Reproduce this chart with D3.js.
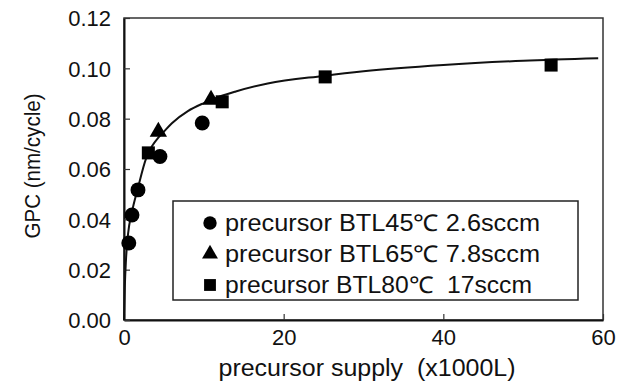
<!DOCTYPE html>
<html>
<head>
<meta charset="utf-8">
<script src="https://cdn.jsdelivr.net/npm/d3@7"></script>
<style>
  body { margin: 0; background: #fff; }
  text { font-family: "Liberation Sans", Arial, sans-serif; fill: #111; white-space: pre; }
</style>
</head>
<body>
<div id="chart"></div>
<script>
// series
var circleX = [0.6, 1.0, 1.75, 4.5, 9.8];
var circleY = [0.0306, 0.0417, 0.0517, 0.0650, 0.0783];
var triangleX = [4.3, 10.9];
var triangleY = [0.0748, 0.0875];
var squareX = [3.05, 12.3, 25.2, 53.5];
var squareY = [0.0664, 0.0867, 0.0966, 0.1013];

// fitted curve
var curveX = [0, 0.1, 0.25, 0.5, 1.0, 1.75, 2.75, 3.5, 4.3, 4.9, 6, 8, 10, 12, 14, 18, 25, 30, 40, 50, 59.4];
var curveY = [0, 0.013, 0.024, 0.034, 0.043, 0.0525, 0.0640, 0.0690, 0.0725, 0.0745, 0.0782, 0.0830, 0.0862, 0.0888, 0.0908, 0.0940, 0.0970, 0.0988, 0.1013, 0.1030, 0.1040];

var xTicks = [0, 20, 40, 60];
var yTicks = [0, 0.02, 0.04, 0.06, 0.08, 0.10, 0.12];

var legendLabels = ["precursor BTL45\u2103 2.6sccm", "precursor BTL65\u2103 7.8sccm", "precursor BTL80\u2103  17sccm"];
var legendWidths = [315, 315, 307];
var legendShapes = [d3.symbolCircle, d3.symbolTriangle, d3.symbolSquare];

var margin = {top: 18, right: 20, bottom: 71, left: 124},
    width = 623 - margin.left - margin.right,
    height = 391 - margin.top - margin.bottom;

var svg = d3.select("#chart")
  .append("svg")
  .attr("width", 623)
  .attr("height", 391)
  .append("g")
  .attr("transform", "translate(" + margin.left + "," + margin.top + ")");

var x = d3.scaleLinear().domain([0, 60]).range([0, width]);
var y = d3.scaleLinear().domain([0, 0.12]).range([height, 0]);

// frame
svg.append("rect")
  .attr("width", width)
  .attr("height", height)
  .attr("fill", "none")
  .attr("stroke", "#333")
  .attr("stroke-width", 1.5);

// axes, ticks pointing inward
var xAxis = svg.append("g")
  .attr("transform", "translate(0," + height + ")")
  .call(d3.axisBottom(x).tickValues(xTicks).tickSizeInner(-6).tickSizeOuter(0).tickPadding(9).tickFormat(d3.format("d")));
var yAxis = svg.append("g")
  .call(d3.axisLeft(y).tickValues(yTicks).tickSizeInner(-6).tickSizeOuter(0).tickPadding(13).tickFormat(d3.format(".2f")));

[xAxis, yAxis].forEach(function(a){
  a.select(".domain").attr("stroke", "#111").attr("stroke-width", 2);
  a.selectAll("line").attr("stroke", "#333").attr("stroke-width", 1.2);
  a.selectAll("text").style("font-size", "22px").attr("fill", "#111");
});
yAxis.selectAll("text").attr("dy", "0.36em");

// axis titles
svg.append("text")
  .attr("x", 243)
  .attr("y", height + 56)
  .attr("text-anchor", "middle")
  .style("font-size", "23px")
  .attr("textLength", 297)
  .attr("lengthAdjust", "spacingAndGlyphs")
  .text("precursor supply  (x1000L)");

svg.append("text")
  .attr("transform", "translate(" + (-84) + "," + 148 + ") rotate(-90)")
  .attr("text-anchor", "middle")
  .style("font-size", "22px")
  .attr("textLength", 145)
  .attr("lengthAdjust", "spacingAndGlyphs")
  .text("GPC (nm/cycle)");

// fit line
var line = d3.line()
  .x(function(d) { return x(d[0]); })
  .y(function(d) { return y(d[1]); })
  .curve(d3.curveMonotoneX);

svg.append("path")
  .datum(curveX.map(function(v, i){ return [v, curveY[i]]; }))
  .attr("fill", "none")
  .attr("stroke", "#111")
  .attr("stroke-width", 2)
  .attr("d", line);

// legend
var lg = svg.append("g").attr("transform", "translate(49,183)");
lg.append("rect")
  .attr("width", 405)
  .attr("height", 99)
  .attr("fill", "#fff")
  .attr("stroke", "#222")
  .attr("stroke-width", 1.5);

legendLabels.forEach(function(lab, i){
  var yy = 22 + i * 31;
  lg.append("path")
    .attr("transform", "translate(37," + yy + ")")
    .attr("d", d3.symbol().type(legendShapes[i]).size(i == 1 ? 110 : 140)())
    .attr("fill", "#000");
  lg.append("text")
    .attr("x", 52)
    .attr("y", yy)
    .attr("dy", "0.36em")
    .style("font-size", "23px")
    .attr("textLength", legendWidths[i])
    .attr("lengthAdjust", "spacingAndGlyphs")
    .text(lab);
});

// markers
function drawPoints(xs, ys, shape, size) {
  svg.selectAll(null)
    .data(xs.map(function(v, i){ return [v, ys[i]]; }))
    .enter().append("path")
    .attr("transform", function(d){ return "translate(" + x(d[0]) + "," + y(d[1]) + ")"; })
    .attr("d", d3.symbol().type(shape).size(size)())
    .attr("fill", "#000");
}
drawPoints(circleX, circleY, d3.symbolCircle, 175);
drawPoints(triangleX, triangleY, d3.symbolTriangle, 130);
drawPoints(squareX, squareY, d3.symbolSquare, 170);
</script>
</body>
</html>
